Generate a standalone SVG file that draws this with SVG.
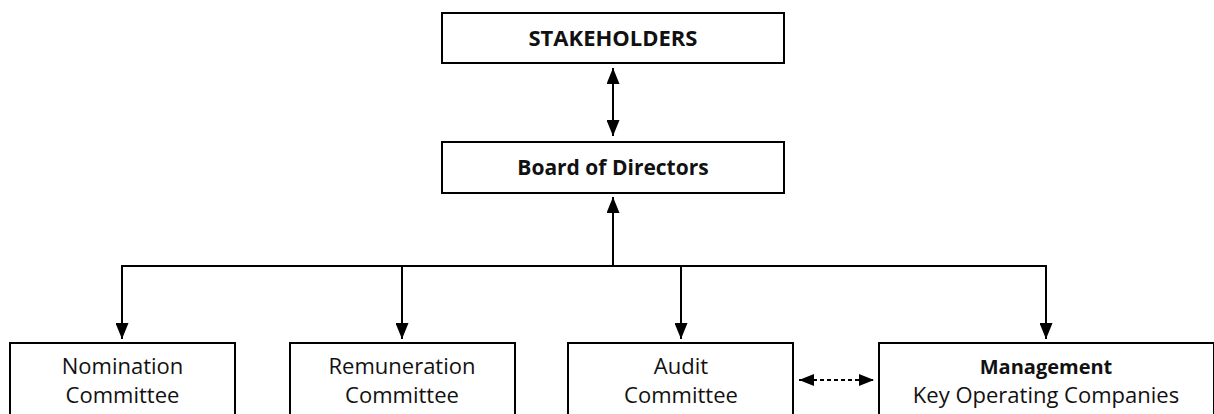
<svg xmlns="http://www.w3.org/2000/svg" width="1214" height="414" viewBox="0 0 1214 414">
<style>
.box{fill:#fff;stroke:#000;stroke-width:2}
.t{font-family:"Open Sans","Liberation Sans",sans-serif;font-size:22px;fill:#111;text-anchor:middle}
.b{font-weight:bold}
.c{fill:none;stroke:#000;stroke-width:2}
.d{stroke-dasharray:4 3}
</style>
<defs>
<marker id="ah" markerUnits="userSpaceOnUse" markerWidth="16" markerHeight="13" refX="16" refY="6.5" orient="auto-start-reverse" viewBox="0 0 16 13">
<path d="M0,0 L16,6.5 L0,13 z" fill="#000"/>
</marker>
<marker id="ahs" markerUnits="userSpaceOnUse" markerWidth="15" markerHeight="12" refX="15" refY="6" orient="auto-start-reverse" viewBox="0 0 15 12">
<path d="M0,0 L15,6 L0,12 z" fill="#000"/>
</marker>
</defs>
<g id="connectors">
<line class="c" x1="613" y1="68" x2="613" y2="136" marker-start="url(#ah)" marker-end="url(#ah)"/>
<line class="c" x1="613" y1="267" x2="613" y2="197" marker-end="url(#ah)"/>
<polyline class="c" points="122,339 122,266 1046,266 1046,339" marker-start="url(#ah)" marker-end="url(#ah)"/>
<line class="c" x1="402" y1="266" x2="402" y2="339" marker-end="url(#ah)"/>
<line class="c" x1="681" y1="266" x2="681" y2="339" marker-end="url(#ah)"/>
<line class="c d" x1="799" y1="380" x2="874" y2="380" marker-start="url(#ahs)" marker-end="url(#ahs)"/>
</g>
<g id="stakeholders">
<rect class="box" x="442" y="13" width="342" height="50"/>
<text class="t b" x="613" y="46" font-size="22">STAKEHOLDERS</text>
</g>
<g id="board">
<rect class="box" x="442" y="142" width="342" height="51"/>
<text class="t b" x="613" y="175" style="font-size:21px">Board of Directors</text>
</g>
<g id="nomination">
<rect class="box" x="10" y="343" width="225" height="90"/>
<text class="t" x="122.5" y="374">Nomination</text>
<text class="t" x="122.5" y="403">Committee</text>
</g>
<g id="remuneration">
<rect class="box" x="290" y="343" width="225" height="90"/>
<text class="t" x="402" y="374">Remuneration</text>
<text class="t" x="402" y="403">Committee</text>
</g>
<g id="audit">
<rect class="box" x="568" y="343" width="225" height="90"/>
<text class="t" x="681" y="374">Audit</text>
<text class="t" x="681" y="403">Committee</text>
</g>
<g id="management">
<rect class="box" x="879" y="343" width="335" height="90"/>
<text class="t b" x="1046" y="374" style="font-size:20px">Management</text>
<text class="t" x="1046" y="403">Key Operating Companies</text>
</g>
</svg>
